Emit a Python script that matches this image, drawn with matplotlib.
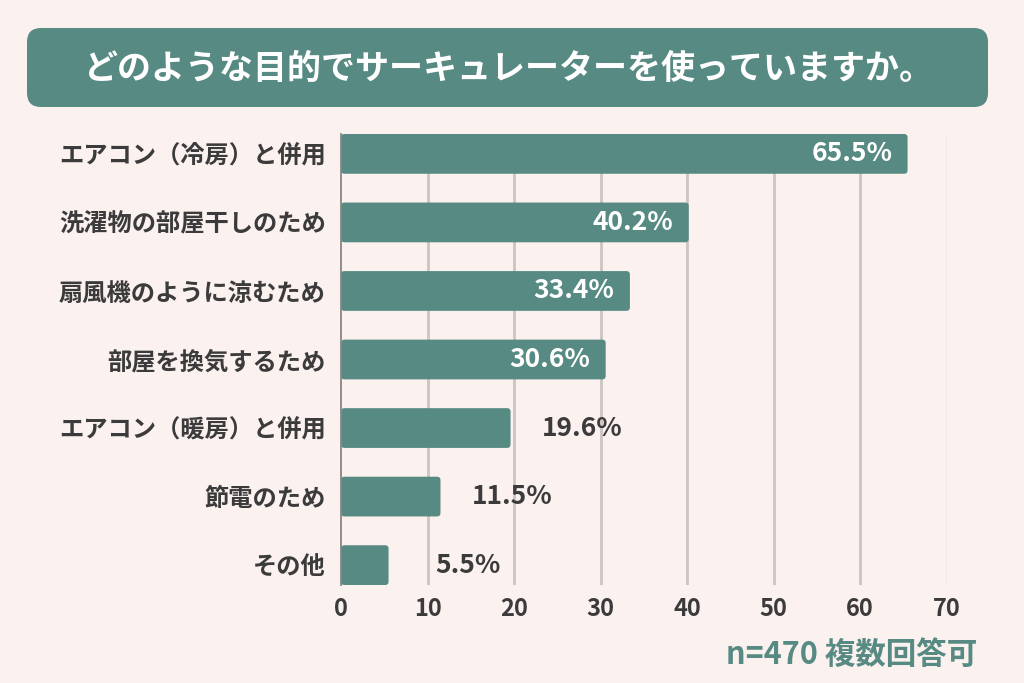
import matplotlib
matplotlib.use("Agg")
import matplotlib.pyplot as plt
from matplotlib.patches import FancyBboxPatch

plt.rcParams['font.family'] = ['Noto Sans CJK JP', 'DejaVu Sans']

title = "どのような目的でサーキュレーターを使っていますか。"
categories = ["エアコン（冷房）と併用", "洗濯物の部屋干しのため", "扇風機のように涼むため",
              "部屋を換気するため", "エアコン（暖房）と併用", "節電のため", "その他"]
values = [65.5, 40.2, 33.4, 30.6, 19.6, 11.5, 5.5]
xticks = [0, 10, 20, 30, 40, 50, 60, 70]
note = "n=470 複数回答可"

BG = "#fbf1ef"
TEAL = "#568a82"
DARK = "#3b3b3b"
GRID = "#cdc3c1"

fig = plt.figure(figsize=(10.24, 6.83), dpi=100, facecolor=BG)

# title box
box = FancyBboxPatch((0.27, 6.83 - 1.07), 9.88 - 0.27, 1.07 - 0.28,
                     boxstyle="round,pad=0,rounding_size=0.14",
                     transform=fig.dpi_scale_trans, facecolor=TEAL,
                     edgecolor="none", zorder=0)
fig.patches.append(box)
fig.text(0.497, 1 - 68 / 683, title, color="white", fontsize=24.5,
         fontweight="bold", ha="center", va="center")

ax = fig.add_axes([341 / 1024, 1 - 585 / 683, (946.5 - 341) / 1024, (585 - 134) / 683])
ax.set_facecolor("none")
y = list(range(len(categories)))
bh = 0.58
bars = ax.barh(y, values, height=bh, color=TEAL, zorder=3)
ax.set_xlim(0, 70)
ax.set_ylim(len(categories) - 1 + bh / 2, -bh / 2)

# rounded bar corners
xpp = 70 / (946.5 - 341)
ypp = (len(categories) - 1 + bh) / (585 - 134)
for b in bars:
    b.set_visible(False)
    fb = FancyBboxPatch(b.get_xy(), b.get_width(), b.get_height(),
                        boxstyle="round,pad=0,rounding_size=%f" % (3.5 * xpp),
                        mutation_aspect=ypp / xpp, facecolor=TEAL,
                        edgecolor="none", zorder=3)
    ax.add_patch(fb)

for i, v in enumerate(values):
    if v > 25:
        ax.annotate(f"{v:.1f}%", (v, i), xytext=(-11, 0), textcoords="offset points",
                    ha="right", va="center", color="white", fontsize=19,
                    fontweight="bold", zorder=4)
    else:
        ax.annotate(f"{v:.1f}%", (v, i), xytext=(81, 0), textcoords="offset points",
                    ha="right", va="center", color=DARK, fontsize=19,
                    fontweight="bold", zorder=4)

ax.set_xticks(xticks)
ax.set_xticklabels([str(t) for t in xticks], fontsize=17, fontweight="bold", color=DARK)
ax.set_yticks(y)
ax.set_yticklabels(categories, fontsize=17.5, fontweight="bold", color=DARK)
ax.tick_params(axis="both", length=0)
ax.tick_params(axis="x", pad=9)
ax.tick_params(axis="y", pad=11)

for t in xticks[1:]:
    ax.axvline(t, color=GRID if t < 70 else "#f3e9e7", lw=2, zorder=1)

for s in ["top", "right", "bottom"]:
    ax.spines[s].set_visible(False)
ax.spines["left"].set_color("#8a8483")
ax.spines["left"].set_linewidth(1.3)
ax.spines["left"].set_zorder(5)

fig.text(977 / 1024, 1 - 655 / 683, note, color=TEAL, fontsize=22,
         fontweight="bold", ha="right", va="center")

fig.savefig("out.png", dpi=100, facecolor=BG)
